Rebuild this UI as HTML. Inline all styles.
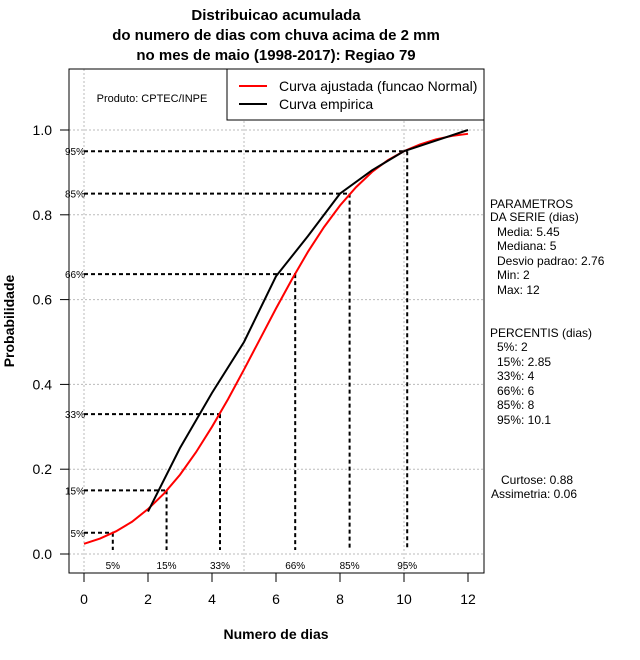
<!DOCTYPE html>
<html><head><meta charset="utf-8"><style>
body{margin:0;background:#fff}
svg{display:block;font-family:"Liberation Sans",sans-serif}
</style></head><body>
<svg id="chart" width="640" height="660" viewBox="0 0 640 660">
<g font-weight="bold" font-size="15" text-anchor="middle">
<text x="276" y="20">Distribuicao acumulada</text>
<text x="276" y="40">do numero de dias com chuva acima de 2 mm</text>
<text x="276" y="60">no mes de maio (1998-2017): Regiao 79</text>
</g>
<g id="grid"></g>
<g id="pct"></g>
<g id="series"></g>
<rect x="69" y="69" width="415" height="504" fill="none" stroke="#000"/>
<g id="axes"></g>
<text x="152" y="102" font-size="11" text-anchor="middle">Produto: CPTEC/INPE</text>
<g>
<rect x="227" y="69" width="257" height="51" fill="#fff" stroke="#000"/>
<line x1="239" y1="86" x2="267" y2="86" stroke="#f00" stroke-width="2"/>
<text x="279" y="91" font-size="14">Curva ajustada (funcao Normal)</text>
<line x1="239" y1="104" x2="267" y2="104" stroke="#000" stroke-width="2"/>
<text x="279" y="109" font-size="14">Curva empirica</text>
</g>
<text x="276" y="639" font-size="14" font-weight="bold" text-anchor="middle">Numero de dias</text>
<text transform="translate(14,321) rotate(-90)" font-size="14" font-weight="bold" text-anchor="middle">Probabilidade</text>
<g font-size="12">
<text x="490" y="208">PARAMETROS</text>
<text x="490" y="221">DA SERIE (dias)</text>
<text x="497" y="236">Media: 5.45</text>
<text x="497" y="250">Mediana: 5</text>
<text x="497" y="265">Desvio padrao: 2.76</text>
<text x="497" y="279">Min: 2</text>
<text x="497" y="294">Max: 12</text>
<text x="490" y="337">PERCENTIS (dias)</text>
<text x="497" y="351">5%: 2</text>
<text x="497" y="366">15%: 2.85</text>
<text x="497" y="380">33%: 4</text>
<text x="497" y="395">66%: 6</text>
<text x="497" y="409">85%: 8</text>
<text x="497" y="424">95%: 10.1</text>
<text x="501" y="484">Curtose: 0.88</text>
<text x="491" y="498">Assimetria: 0.06</text>
</g>
</svg>
<script>
const xTicks=[0,2,4,6,8,10,12];
const yTicks=[0,0.2,0.4,0.6,0.8,1.0];
const yTickLabels=["0.0","0.2","0.4","0.6","0.8","1.0"];
const xGrid=[0,5,10];
const empX=[2,3,4,5,6,7,8,9,10,11,12];
const empY=[0.1,0.25,0.38,0.5,0.655,0.75,0.85,0.905,0.95,0.975,1.0];
const fitX=[0,0.5,1,1.5,2,2.5,3,3.5,4,4.5,5,5.5,6,6.5,7,7.5,8,8.5,9,9.5,10,10.5,11,11.5,12];
const fitY=[0.024,0.0365,0.0535,0.076,0.106,0.1426,0.187,0.240,0.300,0.365,0.435,0.507,0.579,0.648,0.713,0.771,0.822,0.865,0.901,0.929,0.950,0.966,0.978,0.986,0.991];
const pctLabels=["5%","15%","33%","66%","85%","95%"];
const pctP=[0.05,0.15,0.33,0.66,0.85,0.95];
const pctX=[0.9,2.58,4.25,6.6,8.3,10.1];
const NS="http://www.w3.org/2000/svg";
const sx=v=>84+v*32;
const sy=v=>554-v*424;
function mk(tag,attrs,parent,txt){const e=document.createElementNS(NS,tag);for(const k in attrs)e.setAttribute(k,attrs[k]);if(txt!==undefined)e.textContent=txt;parent.appendChild(e);return e;}
const grid=document.getElementById('grid'),axes=document.getElementById('axes'),pct=document.getElementById('pct'),ser=document.getElementById('series');
xGrid.forEach(v=>{const l=mk('line',{x1:sx(v),x2:sx(v),y1:69,y2:573,stroke:'#bbb','stroke-dasharray':'2,2'},grid);

});
yTicks.forEach((v,i)=>{const l=mk('line',{x1:69,x2:484,y1:sy(v),y2:sy(v),stroke:'#bbb','stroke-dasharray':'2,2'},grid);


const t=mk('line',{x1:60,x2:69,y1:sy(v),y2:sy(v),stroke:'#000'},axes);


const tx=mk('text',{x:52,y:sy(v)+5,'font-size':14,'text-anchor':'end'},axes,yTickLabels[i]);

});
xTicks.forEach(v=>{const t=mk('line',{x1:sx(v),x2:sx(v),y1:573,y2:582,stroke:'#000'},axes);


const tx=mk('text',{x:sx(v),y:604,'font-size':14,'text-anchor':'middle'},axes,String(v));

});
pctP.forEach((p,i)=>{const x=sx(pctX[i]),y=sy(p);
const h=mk('line',{x1:84,x2:x,y1:y,y2:y,stroke:'#000','stroke-width':2,'stroke-dasharray':'4,3'},pct);


const v=mk('line',{x1:x,x2:x,y1:y,y2:550,stroke:'#000','stroke-width':2,'stroke-dasharray':'4,3'},pct);


const l1=mk('text',{x:85,y:y+4,'font-size':10,'text-anchor':'end'},pct,pctLabels[i]);


const l2=mk('text',{x:x,y:569,'font-size':10,'text-anchor':'middle'},pct,pctLabels[i]);

});
const fit=mk('polyline',{points:fitX.map((v,i)=>sx(v)+','+sy(fitY[i])).join(' '),fill:'none',stroke:'#f00','stroke-width':2},ser);


const emp=mk('polyline',{points:empX.map((v,i)=>sx(v)+','+sy(empY[i])).join(' '),fill:'none',stroke:'#000','stroke-width':2},ser);


</script>
</body></html>
